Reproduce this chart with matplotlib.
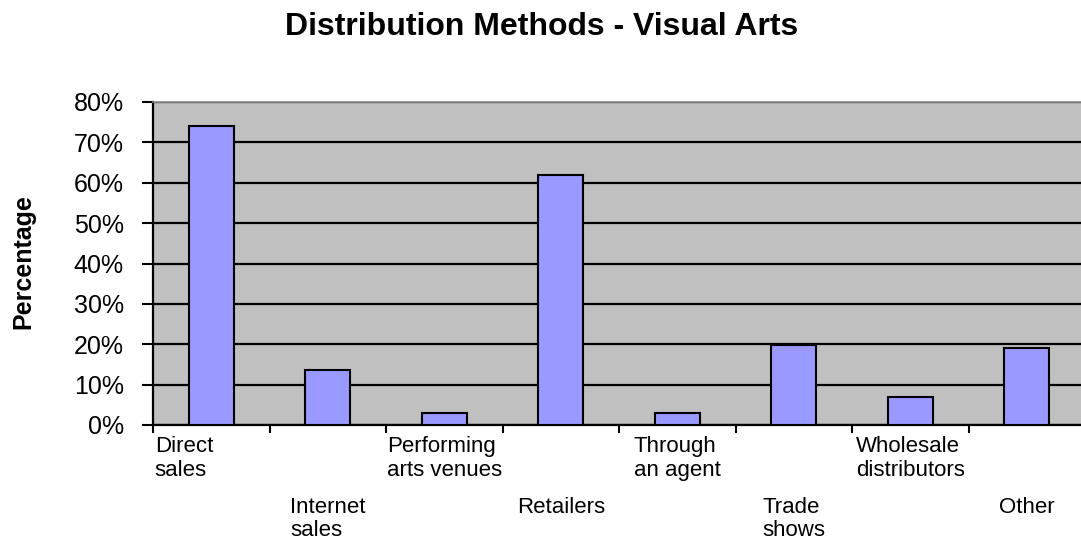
import numpy as np
import matplotlib
matplotlib.use('Agg')
from matplotlib import pyplot as plt
from matplotlib import transforms

categories = ['Direct\nsales', 'Internet\nsales', 'Performing\narts venues', 'Retailers',
              'Through\nan agent', 'Trade\nshows', 'Wholesale\ndistributors', 'Other']
values = [74, 13.6, 3, 62, 3, 19.8, 7, 19]
yticks = [0, 10, 20, 30, 40, 50, 60, 70, 80]


def main():
    plt.rcParams['font.family'] = ['Liberation Sans', 'DejaVu Sans']
    fig = plt.figure(figsize=(10.81, 5.46), dpi=100)
    ax = fig.add_axes([153 / 1081, 121 / 546, 932 / 1081, 323 / 546])

    x = np.arange(len(categories))
    ax.set_facecolor('#c0c0c0')
    ax.bar(x, values, width=0.39, color='#9999ff', edgecolor='black', linewidth=1.5, zorder=3)

    ax.set_xlim(-0.5, len(categories) - 0.5)
    ax.set_ylim(0, 80)
    ax.set_yticks(yticks)
    ax.set_yticklabels([f'{v}%' for v in yticks], fontsize=18)
    ax.yaxis.grid(True, color='black', linewidth=1.6, zorder=1)
    ax.set_axisbelow(True)

    ax.set_xticks(np.arange(len(categories) + 1) - 0.5)
    ax.set_xticklabels([])
    ax.tick_params(axis='x', length=6, width=1.5, direction='out')
    ax.tick_params(axis='y', length=8, width=1.5, direction='out', pad=13)

    for side in ['left', 'bottom']:
        ax.spines[side].set_linewidth(1.6)
        ax.spines[side].set_color('black')
    ax.spines['top'].set_color('#909090')
    ax.spines['top'].set_linewidth(1.2)
    ax.spines['right'].set_visible(False)

    # staggered category labels, two rows
    trans = transforms.blended_transform_factory(ax.transData, ax.transAxes)
    for i, lab in enumerate(categories):
        y = -0.035 if i % 2 == 0 else -0.222
        if i == 0:
            ax.text(-0.485, y, lab, transform=trans, ha='left', va='top',
                    fontsize=16, linespacing=1.15)
        else:
            ax.text(i, y, lab, transform=trans, ha='center', va='top',
                    multialignment='left', fontsize=16, linespacing=1.15)

    fig.text(23 / 1081, 1 - 262 / 546, 'Percentage', rotation=90, ha='center', va='center',
             fontsize=18, fontweight='bold')
    fig.text(542 / 1081, 1 - 27 / 546, 'Distribution Methods - Visual Arts',
             ha='center', va='center', fontsize=23, fontweight='bold')

    fig.savefig('out.png', dpi=100)


if __name__ == '__main__':
    main()
